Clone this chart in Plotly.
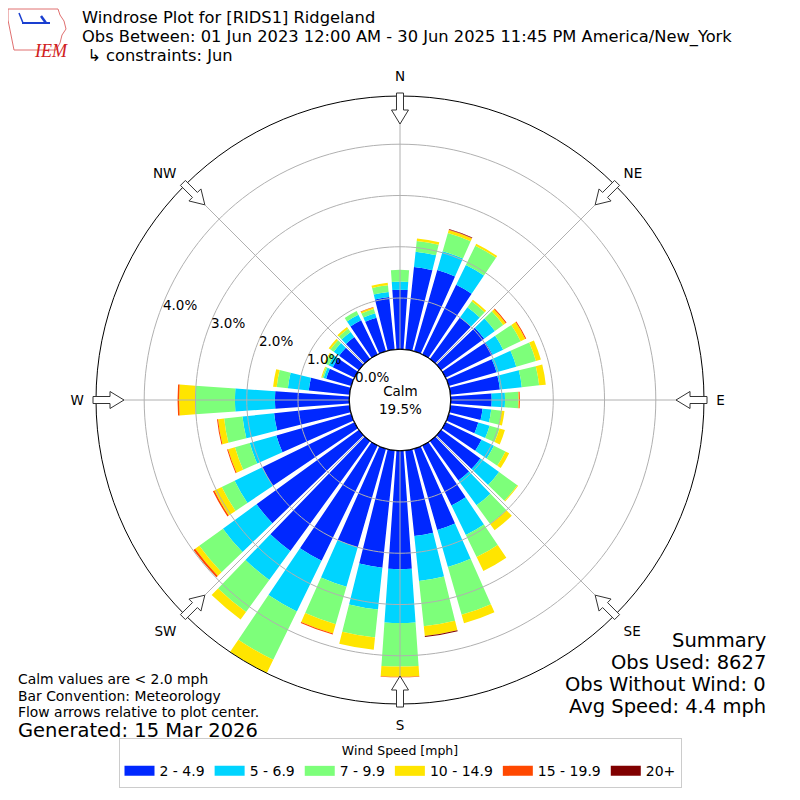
import math
import plotly.graph_objects as go

# ---------------- data ----------------
directions = [0, 10, 20, 30, 40, 50, 60, 70, 80, 90, 100, 110, 120, 130, 140, 150, 160, 170,
              180, 190, 200, 210, 220, 230, 240, 250, 260, 270, 280, 290, 300, 310, 320, 330, 340, 350]

# percent of observations per direction bin, per speed class
spd_2_5 = [1.16, 1.62, 1.65, 1.51, 1.00, 1.04, 1.02, 0.97, 0.97, 0.80, 0.63, 0.60, 0.78, 0.95, 0.95, 1.30, 1.65, 1.68,
           2.31, 2.30, 2.00, 2.50, 2.65, 2.47, 2.00, 1.52, 1.48, 1.45, 0.80, 0.51, 0.47, 0.48, 0.53, 0.74, 0.68, 1.03]
spd_5_7 = [0.16, 0.30, 0.38, 0.43, 0.25, 0.26, 0.23, 0.40, 0.43, 0.26, 0.17, 0.23, 0.27, 0.45, 0.60, 0.64, 0.75, 0.88,
           1.05, 0.82, 0.80, 1.10, 0.70, 0.81, 0.60, 0.54, 0.62, 0.78, 0.41, 0.05, 0.09, 0.13, 0.12, 0.12, 0.09, 0.10]
spd_7_10 = [0.23, 0.21, 0.37, 0.42, 0.14, 0.20, 0.38, 0.40, 0.34, 0.26, 0.20, 0.20, 0.25, 0.44, 0.45, 0.48, 0.97, 0.89,
            0.85, 0.55, 0.76, 1.05, 0.77, 0.57, 0.28, 0.30, 0.36, 0.78, 0.22, 0.03, 0.08, 0.08, 0.08, 0.08, 0.09, 0.13]
spd_10_15 = [0.00, 0.05, 0.06, 0.04, 0.04, 0.06, 0.10, 0.10, 0.13, 0.01, 0.06, 0.11, 0.08, 0.02, 0.15, 0.30, 0.17, 0.19,
             0.20, 0.24, 0.19, 0.29, 0.18, 0.10, 0.16, 0.14, 0.12, 0.31, 0.07, 0.02, 0.02, 0.04, 0.04, 0.00, 0.03, 0.05]
spd_15_20 = [0.00, 0.00, 0.01, 0.00, 0.00, 0.02, 0.02, 0.00, 0.00, 0.02, 0.00, 0.00, 0.00, 0.00, 0.00, 0.00, 0.00, 0.00,
             0.01, 0.00, 0.02, 0.00, 0.00, 0.04, 0.03, 0.02, 0.02, 0.03, 0.00, 0.00, 0.00, 0.00, 0.00, 0.00, 0.01, 0.00]
spd_20p = [0.00, 0.00, 0.01, 0.00, 0.00, 0.00, 0.00, 0.00, 0.00, 0.00, 0.00, 0.00, 0.00, 0.00, 0.00, 0.00, 0.00, 0.02,
           0.00, 0.00, 0.00, 0.00, 0.00, 0.00, 0.00, 0.00, 0.00, 0.00, 0.00, 0.00, 0.00, 0.00, 0.00, 0.00, 0.00, 0.00]

speed_labels = ["2 - 4.9", "5 - 6.9", "7 - 9.9", "10 - 14.9", "15 - 19.9", "20+"]
speed_series = [spd_2_5, spd_5_7, spd_7_10, spd_10_15, spd_15_20, spd_20p]
speed_colors = ["#0028ff", "#00d4ff", "#7dff7a", "#ffe500", "#ff4800", "#800000"]

radial_ticks = [0, 1, 2, 3, 4]
radial_ticktext = ["0.0%", "1.0%", "2.0%", "3.0%", "4.0%"]
compass_angles = [0, 45, 90, 135, 180, 225, 270, 315]
compass_labels = ["N", "NE", "E", "SE", "S", "SW", "W", "NW"]

calm_pct = "19.5%"
title_lines = ["Windrose Plot for [RIDS1] Ridgeland",
               "Obs Between: 01 Jun 2023 12:00 AM - 30 Jun 2025 11:45 PM America/New_York",
               " \u21b3 constraints: Jun"]
summary_lines = ["Summary", "Obs Used: 8627", "Obs Without Wind: 0", "Avg Speed: 4.4 mph"]
note_lines = ["Calm values are < 2.0 mph", "Bar Convention: Meteorology",
              "Flow arrows relative to plot center."]
generated = "Generated: 15 Mar 2026"

# ---------------- layout geometry ----------------
W = H = 800
OFF = 8                      # page body margin of the html page
CX, CY, R_OUT, R_HOLE = 400, 400, 304, 50.7
totals = [sum(s[i] for s in speed_series) for i in range(len(directions))]
rmax = max(totals)
FONT = "DejaVu Sans"
GRID = "#b0b0b0"
RAD_ANGLE = 159.5            # radial label ray (math convention)
TITLE_Y = [18, 37.5, 55.5]


def px(x):
    return (x - OFF) / W


def py(y):
    return 1 - (y - OFF) / H


fig = go.Figure()
for lab, vals, col in zip(speed_labels, speed_series, speed_colors):
    fig.add_trace(go.Barpolar(r=vals, theta=directions, width=8, name=lab, showlegend=False,
                              marker=dict(color=col, line=dict(width=0)),
                              hoverinfo="skip"))

# grid drawn above bars (as in the reference)
circ = list(range(0, 361, 2))
for t in radial_ticks[1:]:
    fig.add_trace(go.Scatterpolar(r=[t] * len(circ), theta=circ, mode="lines",
                                  line=dict(color=GRID, width=1), showlegend=False,
                                  hoverinfo="skip"))
for a in compass_angles:
    fig.add_trace(go.Scatterpolar(r=[0, rmax], theta=[a, a], mode="lines",
                                  line=dict(color=GRID, width=1), showlegend=False,
                                  hoverinfo="skip"))
fig.add_trace(go.Scatterpolar(r=[0] * len(circ), theta=circ, mode="lines",
                              line=dict(color="black", width=1.2), showlegend=False,
                              hoverinfo="skip"))

# legend entries drawn as wide colour patches
for lab, col in zip(speed_labels, speed_colors):
    fig.add_trace(go.Scatterpolar(r=[None], theta=[None], mode="lines", name=lab,
                                  line=dict(color=col, width=10), hoverinfo="skip"))

# hollow flow arrows on the outer circle
shapes = []
for a in compass_angles:
    th = math.radians(a)
    ux, uy = math.sin(th), -math.cos(th)
    vx, vy = math.cos(th), math.sin(th)
    pts_local = [(307, -3.5), (290, -3.5), (290, -8.5), (276, 0), (290, 8.5), (290, 3.5), (307, 3.5)]
    pts = []
    for rr, ww in pts_local:
        x = CX + rr * ux + ww * vx
        y = CY + rr * uy + ww * vy
        pts.append((px(x), py(y)))
    path = "M " + " L ".join(f"{x:.5f},{y:.5f}" for x, y in pts) + " Z"
    shapes.append(dict(type="path", xref="paper", yref="paper", path=path,
                       fillcolor="white", line=dict(color="#333333", width=1), layer="above"))

# simple IEM logo outline (Iowa shape)
iowa = [(8, 9), (58, 9), (60, 15), (64, 21), (66, 29), (62, 35), (60, 43), (56, 50),
        (14, 50), (12, 40), (10, 30), (8, 20)]
shapes.append(dict(type="path", xref="paper", yref="paper",
                   path="M " + " L ".join(f"{px(x):.5f},{py(y):.5f}" for x, y in iowa) + " Z",
                   line=dict(color="#e07070", width=1), fillcolor="rgba(0,0,0,0)"))
shapes.append(dict(type="line", xref="paper", yref="paper", x0=px(22), y0=py(23), x1=px(50), y1=py(23),
                   line=dict(color="#1a3fd0", width=2)))
shapes.append(dict(type="line", xref="paper", yref="paper", x0=px(19), y0=py(13), x1=px(23), y1=py(23),
                   line=dict(color="#1a3fd0", width=1.5)))
shapes.append(dict(type="line", xref="paper", yref="paper", x0=px(41), y0=py(16), x1=px(46), y1=py(23),
                   line=dict(color="#1a3fd0", width=2.5)))

ann = []
ann.append(dict(x=px(32), y=py(39), text="<i>IEM</i>", showarrow=False, xref="paper", yref="paper",
                font=dict(family="Liberation Serif", size=18, color="#d02020")))
for t, ty in zip(title_lines, TITLE_Y):
    ann.append(dict(x=px(80), y=py(ty), text=t, showarrow=False, xref="paper", yref="paper",
                    xanchor="left", yanchor="middle", font=dict(family=FONT, size=16.3, color="black")))
for i, t in enumerate(summary_lines):
    ann.append(dict(x=px(768), y=py(640 + 22 * i), text=t, showarrow=False, xref="paper", yref="paper",
                    xanchor="right", yanchor="middle", font=dict(family=FONT, size=19.5, color="black")))
for i, t in enumerate(note_lines):
    ann.append(dict(x=px(16), y=py(679 + 16.5 * i), text=t, showarrow=False, xref="paper", yref="paper",
                    xanchor="left", yanchor="middle", font=dict(family=FONT, size=13.9, color="black")))
ann.append(dict(x=px(16), y=py(730), text=generated, showarrow=False, xref="paper", yref="paper",
                xanchor="left", yanchor="middle", font=dict(family=FONT, size=19.5, color="black")))
ann.append(dict(x=px(CX), y=py(CY), text="Calm<br>" + calm_pct, showarrow=False, xref="paper",
                yref="paper", xanchor="center", yanchor="middle",
                font=dict(family=FONT, size=13.5, color="black")))

fig.update_layout(
    width=W, height=H, margin=dict(l=0, r=0, t=0, b=0),
    paper_bgcolor="white", font=dict(family=FONT, size=13, color="black"),
    polar=dict(
        domain=dict(x=[px(CX - R_OUT), px(CX + R_OUT)], y=[py(CY + R_OUT), py(CY - R_OUT)]),
        hole=R_HOLE / R_OUT, bgcolor="white", barmode="stack", bargap=0,
        radialaxis=dict(range=[0, rmax], tickvals=radial_ticks, ticktext=radial_ticktext,
                        angle=RAD_ANGLE, tickangle=RAD_ANGLE, showline=False, ticks="", showgrid=False,
                        tickfont=dict(size=13.5, color="black"), layer="above traces"),
        angularaxis=dict(rotation=90, direction="clockwise", tickvals=compass_angles,
                         ticktext=compass_labels, showline=True, linecolor="black", linewidth=1,
                         showgrid=False, ticks="outside", ticklen=9, tickcolor="rgba(0,0,0,0)",
                         tickfont=dict(size=13.5, color="black")),
    ),
    legend=dict(orientation="h", x=px(400), xanchor="center", y=py(788), yanchor="bottom",
                title=dict(text="Wind Speed [mph]", side="top center", font=dict(size=12.5)),
                bordercolor="#cccccc", borderwidth=1, font=dict(size=14), traceorder="normal",
                itemwidth=30),
    shapes=shapes, annotations=ann,
)

fig.write_html("out.html")
